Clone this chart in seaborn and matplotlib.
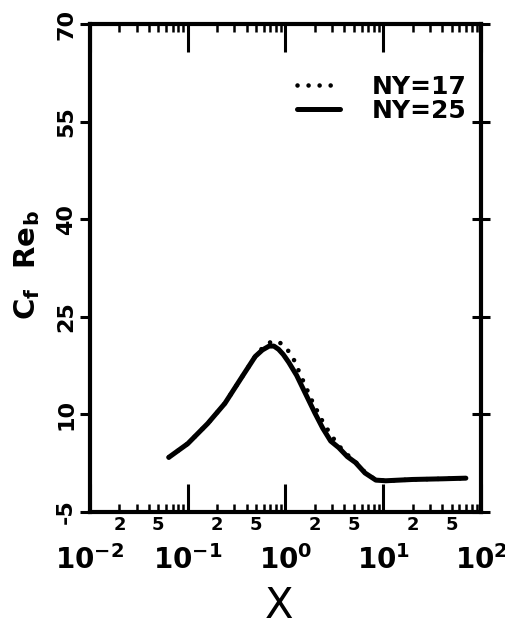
import matplotlib
matplotlib.use("Agg")
import matplotlib.pyplot as plt
import numpy as np
import pandas as pd
import seaborn as sns
from matplotlib.ticker import FixedLocator, FuncFormatter

# ---- data ----
x_ny17 = [0.064, 0.10, 0.16, 0.24, 0.36, 0.49, 0.58, 0.68, 0.76, 0.88, 1.0, 1.17, 1.48, 1.88, 2.4, 2.9, 3.5, 4.3, 5.2, 6.5, 8.4, 10.6, 20, 40, 70]
y_ny17 = [3.4, 5.5, 8.6, 11.7, 15.8, 18.9, 20.2, 21.0, 21.3, 21.0, 20.3, 19.0, 15.5, 12.0, 8.9, 6.9, 5.2, 3.8, 2.7, 1.1, -0.1, -0.2, 0.0, 0.1, 0.2]

x_ny25 = [0.064, 0.10, 0.16, 0.24, 0.36, 0.49, 0.58, 0.68, 0.76, 0.85, 0.95, 1.08, 1.3, 1.6, 2.0, 2.4, 2.9, 3.5, 4.3, 5.2, 6.5, 8.4, 10.6, 20, 40, 70]
y_ny25 = [3.4, 5.5, 8.6, 11.7, 15.8, 18.9, 19.9, 20.5, 20.5, 20.0, 19.2, 18.0, 16.0, 13.2, 10.2, 7.9, 5.9, 4.9, 3.5, 2.6, 1.0, -0.1, -0.2, 0.0, 0.1, 0.2]

series_labels = ["NY=17", "NY=25"]
y_ticks = [-5, 10, 25, 40, 55, 70]
x_decades = [0.01, 0.1, 1, 10, 100]
x_decade_labels = [r"$\mathbf{10^{-2}}$", r"$\mathbf{10^{-1}}$", r"$\mathbf{10^{0}}$",
                   r"$\mathbf{10^{1}}$", r"$\mathbf{10^{2}}$"]
minor_mult = [2, 3, 4, 5, 6, 7, 8, 9]
minor_labelled = [2, 5]

sns.set_theme(style="white")
plt.rcParams['font.family'] = ['DejaVu Sans']
plt.rcParams['font.weight'] = 'bold'
plt.rcParams['mathtext.default'] = 'bf'
for k in ("text.color", "axes.labelcolor", "xtick.color", "ytick.color", "axes.edgecolor"):
    plt.rcParams[k] = "black"

fig = plt.figure(figsize=(5.06, 6.29), dpi=100)
fig.patch.set_facecolor("white")
ax = fig.add_axes([90/506, 1-512/629, 391/506, 488/629])
ax.set_facecolor("white")

df17 = pd.DataFrame({"x": x_ny17, "y": y_ny17})
df25 = pd.DataFrame({"x": x_ny25, "y": y_ny25})

sns.lineplot(data=df17, x="x", y="y", ax=ax, color="black", linewidth=3.3,
             linestyle=(0, (0.01, 2.4)), dash_capstyle="round",
             label=series_labels[0], estimator=None, sort=False)
sns.lineplot(data=df25, x="x", y="y", ax=ax, color="black", linewidth=3.6,
             solid_capstyle="round", solid_joinstyle="round",
             label=series_labels[1], estimator=None, sort=False)

ax.set_xscale("log")
ax.set_xlim(0.01, 100)
ax.set_ylim(-5, 70)
ax.set_xlabel("")
ax.set_ylabel("")

# x ticks
ax.xaxis.set_major_locator(FixedLocator(x_decades))
ax.set_xticklabels(x_decade_labels)
minor_pos = [m * d for d in x_decades[:-1] for m in minor_mult]
ax.xaxis.set_minor_locator(FixedLocator(minor_pos))


def minor_fmt(v, pos):
    mant = v / 10 ** np.floor(np.log10(v) + 1e-9)
    m = int(round(mant))
    return str(m) if m in minor_labelled else ""


ax.xaxis.set_minor_formatter(FuncFormatter(minor_fmt))
ax.tick_params(axis="x", which="major", direction="in", length=20, width=2.2,
               top=True, bottom=True, labelsize=20, pad=24, color="black")
ax.tick_params(axis="x", which="minor", direction="in", length=6, width=1.8,
               top=True, bottom=True, labelsize=13, pad=3, color="black")

# y ticks (left, outward)
ax.set_yticks(y_ticks)
ax.set_yticklabels([str(t) for t in y_ticks])
ax.tick_params(axis="y", which="major", direction="out", length=7, width=2.2,
               left=True, right=False, labelsize=16, pad=3, labelrotation=90,
               color="black")
for lbl in ax.get_yticklabels():
    lbl.set_va("center")
    lbl.set_fontweight("bold")

# right ticks (crossing)
ax2 = ax.twinx()
ax2.set_ylim(-5, 70)
ax2.set_yticks(y_ticks)
ax2.tick_params(axis="y", direction="inout", length=13, width=2.2,
                labelright=False, right=True, color="black")
for s in ax2.spines.values():
    s.set_visible(False)
ax2.grid(False)

for s in ax.spines.values():
    s.set_visible(True)
    s.set_linewidth(3)
    s.set_color("black")
ax.grid(False)

ax.legend(loc="upper left", bbox_to_anchor=(0.53, 0.895), frameon=False,
          prop={"weight": "bold", "size": 18}, handlelength=1.7,
          handletextpad=1.3, labelspacing=0.0, borderpad=0, borderaxespad=0)

fig.text(279/506, 1-606/629, "X", ha="center", va="center", fontsize=30,
         fontweight="normal")
fig.text(27/506, 1-265/629, r"$\mathbf{C_f\ \ Re_b}$", rotation=90,
         ha="center", va="center", fontsize=21)

fig.savefig("out.png", dpi=100, facecolor="white")
